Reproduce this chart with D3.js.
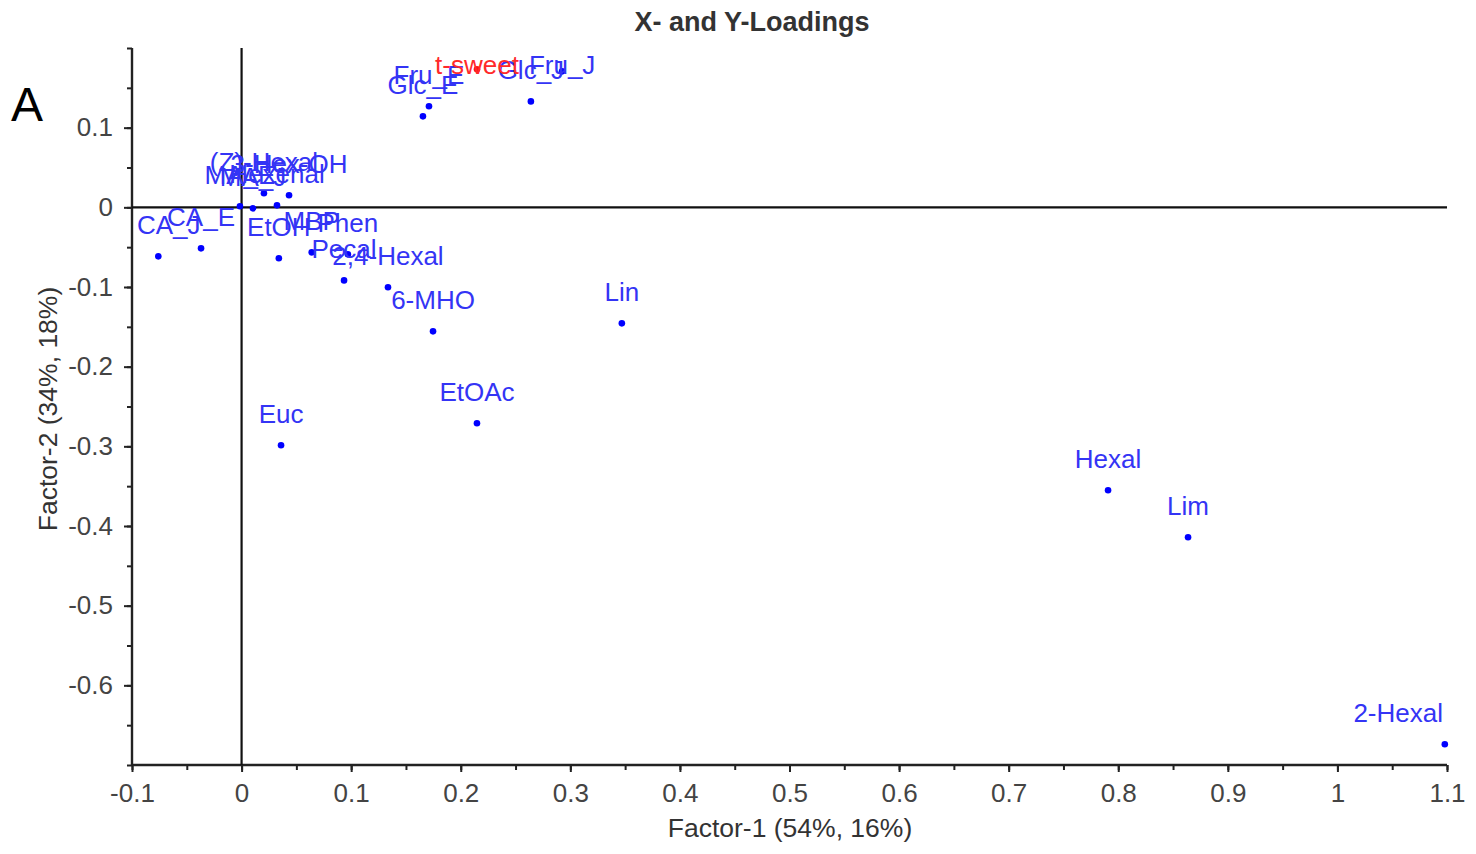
<!DOCTYPE html>
<html><head><meta charset="utf-8">
<script src="https://cdn.jsdelivr.net/npm/d3@7"></script>
<style>body{margin:0;background:#fff}svg{display:block;font-family:"Liberation Sans",Arial,sans-serif}</style>
</head><body><svg id="c" width="1476" height="854"></svg>
<script>
const names = ["CA_J","CA_E","EtOH","MBP","Phen","Pecal","2,4-Hexal","6-MHO","Lin","EtOAc","Euc","Hexal","Lim","2-Hexal","Glc_E","Fru_E","Glc_J","Fru_J","t-sweet","MA_E","MA_J","Hexenal","(Z)-Hexal","3-Hex-OH"];
const factor1 = [-0.076,-0.037,0.034,0.064,0.097,0.0935,0.1336,0.1747,0.347,0.2148,0.036,0.7907,0.8637,1.098,0.1655,0.171,0.264,0.2925,0.2148,-0.0015,0.0104,0.0323,0.0204,0.0433];
const factor2 = [-0.0615,-0.0515,-0.064,-0.0565,-0.059,-0.0917,-0.1004,-0.1557,-0.1456,-0.2711,-0.2987,-0.3552,-0.4142,-0.674,0.1142,0.1268,0.133,0.1707,0.1732,0.0013,-0.0013,0.0025,0.0176,0.0151];
const isY = ["t-sweet"];
const xTicks = [-0.1,0,0.1,0.2,0.3,0.4,0.5,0.6,0.7,0.8,0.9,1,1.1];
const yTicks = [0.1,0,-0.1,-0.2,-0.3,-0.4,-0.5,-0.6];

const svg = d3.select("#c");
const L=132, R=1447, T=48, B=765;
const x = d3.scaleLinear().domain([-0.1,1.1]).range([L,R]);
const y = d3.scaleLinear().domain([-0.7,0.2]).range([B,T]);
const fmt = d => d===0 ? "0" : String(+d.toFixed(2));

// title
svg.append("text").attr("x",752).attr("y",31).attr("text-anchor","middle")
  .attr("font-size",27).attr("font-weight","bold").attr("fill","#333").text("X- and Y-Loadings");
svg.append("text").attr("x",11).attr("y",121).attr("font-size",48).attr("fill","#000").text("A");

// axes
const xMinor = d3.range(-0.1,1.1001,0.05);
const yMinor = d3.range(-0.7,0.2001,0.05);
const gx = svg.append("g").attr("transform",`translate(0,${B})`)
  .call(d3.axisBottom(x).tickValues(xMinor).tickSize(5).tickFormat(""));
gx.select(".domain").remove();
gx.selectAll("line").attr("stroke","#222").attr("stroke-width",2);
const gx2 = svg.append("g").attr("transform",`translate(0,${B})`)
  .call(d3.axisBottom(x).tickValues(xTicks).tickSize(7).tickPadding(12).tickFormat(fmt));
gx2.select(".domain").remove();
gx2.selectAll("line").attr("stroke","#222").attr("stroke-width",2);
gx2.selectAll("text").attr("font-size",26).attr("fill","#444").attr("font-family","Liberation Sans, Arial");

const gy = svg.append("g").attr("transform",`translate(${L},0)`)
  .call(d3.axisLeft(y).tickValues(yMinor).tickSize(5).tickFormat(""));
gy.select(".domain").remove();
gy.selectAll("line").attr("stroke","#222").attr("stroke-width",2);
const gy2 = svg.append("g").attr("transform",`translate(${L},0)`)
  .call(d3.axisLeft(y).tickValues(yTicks).tickSize(8).tickPadding(11).tickFormat(fmt));
gy2.select(".domain").remove();
gy2.selectAll("line").attr("stroke","#222").attr("stroke-width",2);
gy2.selectAll("text").attr("font-size",26).attr("fill","#444").attr("font-family","Liberation Sans, Arial");

// axis lines
svg.append("line").attr("x1",L).attr("x2",L).attr("y1",T).attr("y2",B).attr("stroke","#222").attr("stroke-width",2.4);
svg.append("line").attr("x1",L).attr("x2",R).attr("y1",B).attr("y2",B).attr("stroke","#222").attr("stroke-width",2.4);
// zero lines
svg.append("line").attr("x1",L).attr("x2",R).attr("y1",y(0)).attr("y2",y(0)).attr("stroke","#111").attr("stroke-width",2.2);
svg.append("line").attr("x1",x(0)).attr("x2",x(0)).attr("y1",T).attr("y2",B).attr("stroke","#111").attr("stroke-width",2.2);

// axis titles
svg.append("text").attr("x",790).attr("y",837).attr("text-anchor","middle")
  .attr("font-size",26.5).attr("fill","#333").text("Factor-1 (54%, 16%)");
svg.append("text").attr("transform","translate(57,409) rotate(-90)").attr("text-anchor","middle")
  .attr("font-size",26.5).attr("fill","#333").text("Factor-2 (34%, 18%)");

// points
const data = names.map((n,i)=>({n, a:factor1[i], b:factor2[i], red:isY.includes(n)}));
const g = svg.append("g");
g.selectAll("circle").data(data).join("circle")
  .attr("cx",d=>x(d.a)).attr("cy",d=>y(d.b)).attr("r",3.3)
  .attr("fill",d=>d.red?"#ff1010":"#0000ff");
const labels = g.selectAll("text").data(data).join("text")
  .attr("font-size",26).attr("fill",d=>d.red?"#ff2a2a":"#3434f5")
  .text(d=>d.n);
labels.each(function(d){
  const w = this.getComputedTextLength();
  let lx = x(d.a) - w/2;
  if (lx < L+5) lx = L+5;
  if (lx + w > R-4) lx = R-4-w;
  let by = y(d.b) - 22;
  if (by < T+26) by = T+26;
  d3.select(this).attr("x",lx).attr("y",by);
});
</script></body></html>
